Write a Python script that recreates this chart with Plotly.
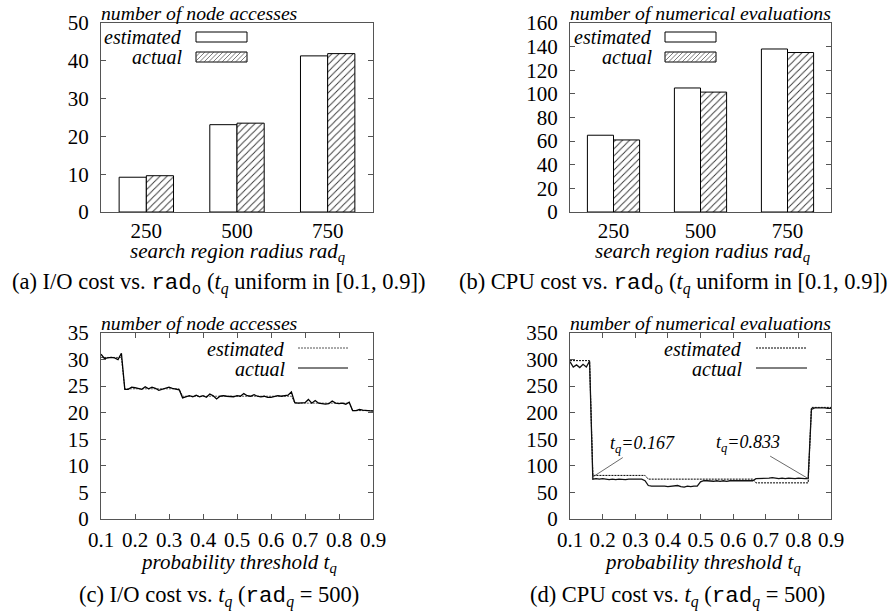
import plotly.graph_objects as go

W, H = 893, 612
FONT = "Liberation Serif, Times New Roman, serif"

radius_labels = ["250", "500", "750"]
io_estimated = [9.2, 23.1, 41.3]
io_actual = [9.6, 23.5, 41.9]
cpu_estimated = [65, 105, 138]
cpu_actual = [61, 101.5, 135]

tq = [0.10, 0.11, 0.12, 0.13, 0.14, 0.15, 0.16, 0.17, 0.18, 0.19,
      0.20, 0.21, 0.22, 0.23, 0.24, 0.25, 0.26, 0.27, 0.28, 0.29,
      0.30, 0.31, 0.32, 0.33, 0.34, 0.35, 0.36, 0.37, 0.38, 0.39,
      0.40, 0.41, 0.42, 0.43, 0.44, 0.45, 0.46, 0.47, 0.48, 0.49,
      0.50, 0.51, 0.52, 0.53, 0.54, 0.55, 0.56, 0.57, 0.58, 0.59,
      0.60, 0.61, 0.62, 0.63, 0.64, 0.65, 0.66, 0.67, 0.68, 0.69,
      0.70, 0.71, 0.72, 0.73, 0.74, 0.75, 0.76, 0.77, 0.78, 0.79,
      0.80, 0.81, 0.82, 0.83, 0.84, 0.85, 0.86, 0.87, 0.88, 0.89,
      0.90]

io_tq_estimated = ([30.4] * 7 + [24.5] * 17 + [23.1] * 33 + [21.8] * 17 + [20.4] * 7)
io_tq_actual = [31.0, 30.2, 30.3, 30.4, 30.3, 30.0, 31.2,
                24.4, 24.4, 24.8, 24.7, 24.5, 24.4, 24.9, 24.5, 24.8, 24.6, 24.2, 24.4, 24.6, 24.8, 24.6, 24.5, 24.3,
                22.8, 23.0, 23.2, 23.0, 23.3, 23.0, 23.2, 22.9, 23.5, 23.2, 22.6, 23.1, 23.2, 23.1, 23.0, 23.0,
                23.2, 23.1, 23.6, 23.2, 23.1, 23.4, 23.1, 23.0, 23.1, 22.9, 22.9, 23.1, 23.2, 23.1, 23.2, 23.3, 23.9,
                21.9, 21.8, 21.8, 21.9, 22.5, 21.8, 22.3, 21.8, 21.7, 21.6, 21.7, 22.2, 21.8, 21.7, 21.8, 21.6, 22.0,
                20.4, 20.4, 20.6, 20.5, 20.4, 20.3, 20.3]

cpu_tq_estimated = ([298] * 7 + [82] * 17 + [75] * 33 + [68] * 17 + [210] * 7)
cpu_tq_actual = [296, 286, 290, 285, 291, 286, 297,
                 75, 76, 75, 76, 75, 74, 75, 74, 75, 74, 74, 75, 75, 75, 76, 75, 72,
                 63, 62, 62, 62, 63, 62, 61, 62, 62, 63, 61, 60, 62, 61, 62, 62,
                 70, 72, 72, 71, 71, 72, 71, 72, 71, 72, 72, 71, 72, 72, 71, 72, 72,
                 76, 76, 77, 76, 77, 78, 77, 76, 77, 76, 77, 76, 76, 77, 76, 76, 76,
                 206, 209, 209, 210, 209, 208, 208]

def PX(x):
    return x / W

def PY(y):
    return 1 - y / H

panels = {
    "a": (101, 373, 23, 212),
    "b": (570, 831, 23, 212),
    "c": (101, 373, 333, 519),
    "d": (570, 831, 333, 519),
}

TICK = 21
TITLE = 19.7
AXT = 21
LEG = 20
CAP = 22.5

fig = go.Figure()

hatch = dict(shape="/", fgcolor="#333333", bgcolor="white", size=5, solidity=0.18)
bar_common = dict(marker_line_color="black", marker_line_width=1)
fig.add_trace(go.Bar(x=radius_labels, y=io_estimated, marker_color="white", xaxis="x", yaxis="y", **bar_common))
fig.add_trace(go.Bar(x=radius_labels, y=io_actual, marker_color="white", xaxis="x", yaxis="y",
                     marker_pattern=hatch, **bar_common))
fig.add_trace(go.Bar(x=radius_labels, y=cpu_estimated, marker_color="white", xaxis="x2", yaxis="y2", **bar_common))
fig.add_trace(go.Bar(x=radius_labels, y=cpu_actual, marker_color="white", xaxis="x2", yaxis="y2",
                     marker_pattern=hatch, **bar_common))

fig.add_trace(go.Scatter(x=tq, y=io_tq_estimated, mode="lines", xaxis="x3", yaxis="y3",
                         line=dict(color="#555555", width=1, dash="2px,1px")))
fig.add_trace(go.Scatter(x=tq, y=io_tq_actual, mode="lines", xaxis="x3", yaxis="y3",
                         line=dict(color="black", width=1.3)))
fig.add_trace(go.Scatter(x=tq, y=cpu_tq_estimated, mode="lines", xaxis="x4", yaxis="y4",
                         line=dict(color="black", width=1, dash="2px,1px")))
fig.add_trace(go.Scatter(x=tq, y=cpu_tq_actual, mode="lines", xaxis="x4", yaxis="y4",
                         line=dict(color="#111111", width=1.3)))

axis_base = dict(showline=True, linecolor="#555555", linewidth=1, mirror="ticks", automargin=False,
                 showgrid=False, zeroline=False, ticks="inside", ticklen=5, tickcolor="#555555",
                 tickfont=dict(family=FONT, size=TICK, color="black"))

def xdom(k):
    x0, x1, _, _ = panels[k]
    return [PX(x0), PX(x1)]

def ydom(k):
    _, _, y0, y1 = panels[k]
    return [PY(y1), PY(y0)]

layout = dict(
    template="none",
    width=W, height=H, autosize=False, margin=dict(l=0, r=0, t=0, b=0, pad=0),
    paper_bgcolor="white", plot_bgcolor="white", showlegend=False,
    barmode="group", bargap=0.4, bargroupgap=0,
    font=dict(family=FONT, color="black"),
)

xa = dict(axis_base); xa.update(domain=xdom("a"), anchor="y", type="category", range=[-0.5, 2.5],
                               ticks="", ticklabelstandoff=0)
ya = dict(axis_base); ya.update(domain=ydom("a"), anchor="x", range=[0, 50], dtick=10, ticklabelstandoff=7)
xb = dict(axis_base); xb.update(domain=xdom("b"), anchor="y2", type="category", range=[-0.5, 2.5],
                               ticks="", ticklabelstandoff=0)
yb = dict(axis_base); yb.update(domain=ydom("b"), anchor="x2", range=[0, 160], dtick=20, ticklabelstandoff=7)
xc = dict(axis_base); xc.update(domain=xdom("c"), anchor="y3", range=[0.1, 0.9], dtick=0.1, tick0=0.1,
                               tickformat=".1f", ticklabelstandoff=2)
yc = dict(axis_base); yc.update(domain=ydom("c"), anchor="x3", range=[0, 35], dtick=5, ticklabelstandoff=7)
xd = dict(axis_base); xd.update(domain=xdom("d"), anchor="y4", range=[0.1, 0.9], dtick=0.1, tick0=0.1,
                               tickformat=".1f", ticklabelstandoff=2)
yd = dict(axis_base); yd.update(domain=ydom("d"), anchor="x4", range=[0, 350], dtick=50, ticklabelstandoff=7)

layout.update(xaxis=xa, yaxis=ya, xaxis2=xb, yaxis2=yb, xaxis3=xc, yaxis3=yc, xaxis4=xd, yaxis4=yd)
fig.update_layout(**layout)

ann = []
def text(x, y, s, size=18, xanchor="center", yanchor="middle"):
    ann.append(dict(x=PX(x), y=PY(y), xref="paper", yref="paper", text=s, showarrow=False,
                    xanchor=xanchor, yanchor=yanchor, font=dict(family=FONT, size=size, color="black")))

text(99, 26, "<i>number of node accesses</i>", size=TITLE, xanchor="left", yanchor="bottom")
text(568, 26, "<i>number of numerical evaluations</i>", size=TITLE, xanchor="left", yanchor="bottom")
text(99, 336, "<i>number of node accesses</i>", size=TITLE, xanchor="left", yanchor="bottom")
text(568, 336, "<i>number of numerical evaluations</i>", size=TITLE, xanchor="left", yanchor="bottom")

text(237, 252, "<i>search region radius rad<sub>q</sub></i>", size=AXT)
text(702, 252, "<i>search region radius rad<sub>q</sub></i>", size=AXT)
text(238, 563, "<i>probability threshold t<sub>q</sub></i>", size=AXT)
text(702, 563, "<i>probability threshold t<sub>q</sub></i>", size=AXT)

MONO = "<span style=\"font-family:'Liberation Mono'\">rad</span>"
MONO_SUB_O = "<sub><span style=\"font-family:'Liberation Mono'\">o</span></sub>"
MONO_SUB_Q = "<sub><i>q</i></sub>"
text(218, 284, "(a) I/O cost vs. " + MONO + MONO_SUB_O + " (<i>t</i><sub><i>q</i></sub> uniform in [0.1, 0.9])", size=CAP)
text(673, 284, "(b) CPU cost vs. " + MONO + MONO_SUB_O + " (<i>t</i><sub><i>q</i></sub> uniform in [0.1, 0.9])", size=CAP)
text(219, 596, "(c) I/O cost vs. <i>t</i><sub><i>q</i></sub> (" + MONO + MONO_SUB_Q + " = 500)", size=CAP)
text(677, 596, "(d) CPU cost vs. <i>t</i><sub><i>q</i></sub> (" + MONO + MONO_SUB_Q + " = 500)", size=CAP)

shapes = []

def legend_box(x0, x1, y0, y1, hatched):
    shapes.append(dict(type="rect", xref="paper", yref="paper", x0=PX(x0), x1=PX(x1), y0=PY(y1), y1=PY(y0),
                       line=dict(color="black", width=1), fillcolor="white", layer="above"))
    if hatched:
        h = y1 - y0
        s = 4.5
        u = x0 - h
        segs = []
        while u < x1:
            t0 = max(0, x0 - u)
            t1 = min(h, x1 - u)
            if t1 > t0:
                segs.append("M%.5f,%.5f L%.5f,%.5f" % (PX(u + t0), PY(y1 - t0), PX(u + t1), PY(y1 - t1)))
            u += s
        shapes.append(dict(type="path", xref="paper", yref="paper", path=" ".join(segs),
                           line=dict(color="#444444", width=0.7), layer="above"))

def legend_line(x0, x1, y, dash, color):
    shapes.append(dict(type="line", xref="paper", yref="paper", x0=PX(x0), x1=PX(x1), y0=PY(y), y1=PY(y),
                       line=dict(color=color, width=1, dash=dash), layer="above"))

text(184, 37, "<i>estimated</i>", size=LEG, xanchor="right")
text(184, 57, "<i>actual</i>", size=LEG, xanchor="right")
legend_box(196, 247, 32, 42, False)
legend_box(196, 247, 52, 62, True)

text(654, 37, "<i>estimated</i>", size=LEG, xanchor="right")
text(654, 57, "<i>actual</i>", size=LEG, xanchor="right")
legend_box(665, 716, 32, 42, False)
legend_box(665, 716, 52, 62, True)

text(287, 349, "<i>estimated</i>", size=LEG, xanchor="right")
text(287, 369, "<i>actual</i>", size=LEG, xanchor="right")
legend_line(298, 348, 348, "2px,1px", "#555555")
legend_line(298, 348, 368, "solid", "black")

text(744, 349, "<i>estimated</i>", size=LEG, xanchor="right")
text(744, 369, "<i>actual</i>", size=LEG, xanchor="right")
legend_line(756, 807, 348, "2px,1px", "black")
legend_line(756, 807, 368, "solid", "black")

ann.append(dict(x=0.167, y=78, xref="x4", yref="y4", text="<i>t<sub>q</sub>=0.167</i>", showarrow=True,
                arrowhead=0, arrowwidth=0.8, arrowcolor="#444444", ax=51, ay=-33,
                font=dict(family=FONT, size=18, color="black")))
ann.append(dict(x=0.833, y=75, xref="x4", yref="y4", text="<i>t<sub>q</sub>=0.833</i>", showarrow=True,
                arrowhead=0, arrowwidth=0.8, arrowcolor="#444444", ax=-61, ay=-36,
                font=dict(family=FONT, size=18, color="black")))

fig.update_layout(annotations=ann, shapes=shapes)
fig.write_html("out.html")
